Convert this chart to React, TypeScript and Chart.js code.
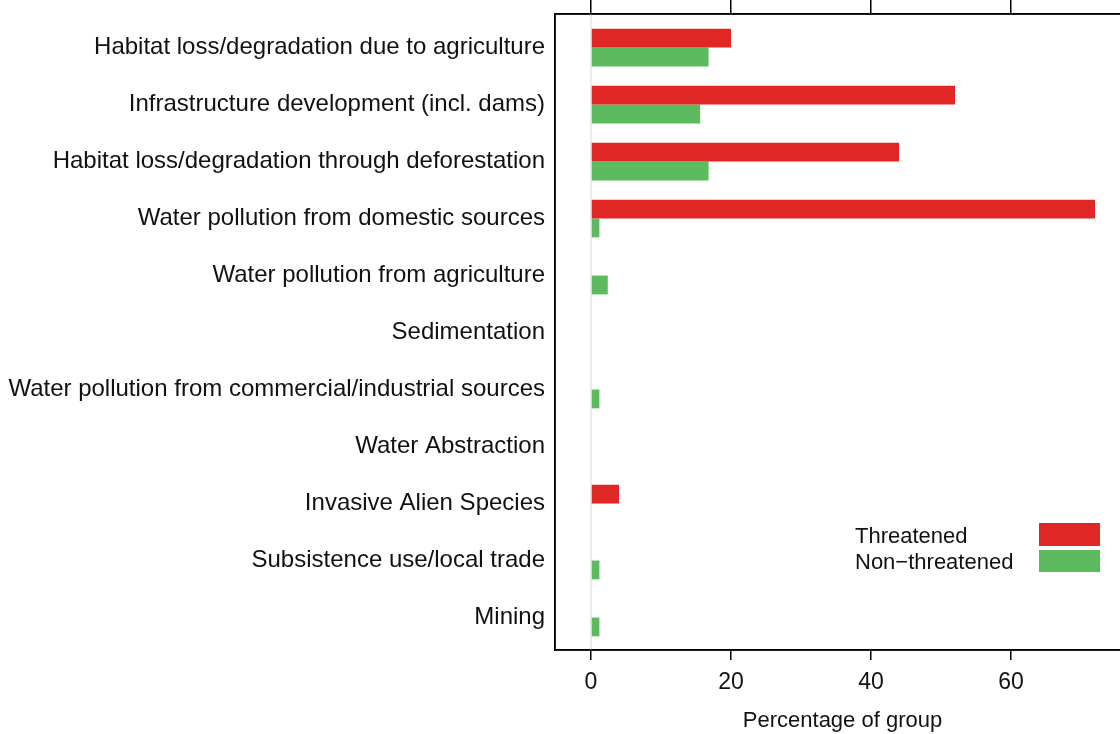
import React, { useEffect, useRef } from "react";
import { Chart, registerables } from "chart.js";

Chart.register(...registerables);

const categories = [
  "Habitat loss/degradation due to agriculture",
  "Infrastructure development (incl. dams)",
  "Habitat loss/degradation through deforestation",
  "Water pollution from domestic sources",
  "Water pollution from agriculture",
  "Sedimentation",
  "Water pollution from commercial/industrial sources",
  "Water Abstraction",
  "Invasive Alien Species",
  "Subsistence use/local trade",
  "Mining",
];
const threatened = [20, 52, 44, 72, 0, 0, 0, 0, 4, 0, 0];
const nonThreatened = [16.8, 15.6, 16.8, 1.2, 2.4, 0, 1.2, 0, 0, 1.2, 1.2];
const xTicks = [0, 20, 40, 60];
const seriesNames = ["Threatened", "Non\u2212threatened"];
const RED = "#DF2826";
const GREEN = "#5DBB5F";
const FONT = "'Liberation Sans', Arial, sans-serif";

export default function App() {
  const ref = useRef<HTMLCanvasElement>(null);
  useEffect(() => {
    document.body.style.margin = "0";
    const setTicks = (scale: any) => {
      scale.ticks = xTicks.map((v) => ({ value: v }));
    };
    const decor = {
      id: "decor",
      beforeDatasetsDraw(chart: any) {
        const { ctx, chartArea, scales } = chart;
        const x0 = scales.x.getPixelForValue(0);
        ctx.save();
        ctx.strokeStyle = "#d8d8d8";
        ctx.lineWidth = 1;
        ctx.beginPath();
        ctx.moveTo(x0, chartArea.top);
        ctx.lineTo(x0, chartArea.bottom);
        ctx.stroke();
        ctx.restore();
      },
      afterDraw(chart: any) {
        const { ctx, chartArea } = chart;
        ctx.save();
        ctx.strokeStyle = "#000";
        ctx.lineWidth = 1.5;
        ctx.strokeRect(chartArea.left, chartArea.top, chartArea.right - chartArea.left, chartArea.bottom - chartArea.top);
        const bx = chartArea.left + 484;
        const tx = chartArea.left + 300;
        ctx.fillStyle = RED;
        ctx.fillRect(bx, chartArea.top + 509, 61, 23);
        ctx.fillStyle = GREEN;
        ctx.fillRect(bx, chartArea.top + 536, 61, 22);
        ctx.fillStyle = "#111";
        ctx.font = `22px ${FONT}`;
        ctx.textAlign = "left";
        ctx.textBaseline = "middle";
        ctx.fillText(seriesNames[0], tx, chartArea.top + 523);
        ctx.fillText(seriesNames[1], tx, chartArea.top + 549);
        ctx.restore();
      },
    };
    const chart = new Chart(ref.current!, {
      type: "bar",
      data: {
        labels: categories,
        datasets: [
          { label: seriesNames[0], data: threatened, backgroundColor: RED, categoryPercentage: 0.66, barPercentage: 1 },
          { label: seriesNames[1], data: nonThreatened, backgroundColor: GREEN, categoryPercentage: 0.66, barPercentage: 1 },
        ],
      },
      options: {
        indexAxis: "y",
        animation: false,
        responsive: false,
        maintainAspectRatio: false,
        layout: { padding: 0 },
        plugins: { legend: { display: false }, tooltip: { enabled: false } },
        scales: {
          x: {
            type: "linear",
            position: "bottom",
            min: -5.14,
            max: 77,
            afterBuildTicks: setTicks,
            afterFit: (s: any) => { s.height = 84; },
            grid: { drawOnChartArea: false, drawTicks: true, tickLength: 10, color: "#000", lineWidth: 1.5 },
            border: { display: true, color: "#000", width: 1.5 },
            ticks: { color: "#111", font: { size: 23, family: FONT }, padding: 9 },
            title: { display: true, text: "Percentage of group", color: "#111", font: { size: 22, family: FONT }, padding: { top: 2, bottom: 0 } },
          },
          x2: {
            type: "linear",
            position: "top",
            min: -5.14,
            max: 77,
            afterBuildTicks: setTicks,
            afterFit: (s: any) => { s.height = 14; s.paddingLeft = 0; s.paddingRight = 0; },
            grid: { drawOnChartArea: false, drawTicks: true, tickLength: 14, color: "#000", lineWidth: 1.5 },
            border: { display: true, color: "#000", width: 1.5 },
            ticks: { display: false },
          },
          y: {
            type: "category",
            position: "left",
            afterFit: (s: any) => { s.width = 555; s.paddingTop = 0; s.paddingBottom = 0; },
            afterUpdate: (s: any) => {
              s._startValue = -0.5 - 0.09;
              s._valueRange = categories.length + 0.16;
            },
            grid: { display: false, drawTicks: false },
            border: { display: true, color: "#000", width: 1.5 },
            ticks: { color: "#111", font: { size: 24, family: FONT }, padding: 10, autoSkip: false },
          },
        },
      },
      plugins: [decor],
    });
    return () => chart.destroy();
  }, []);
  return (
    <div style={{ position: "fixed", left: 0, top: 0, width: 1120, height: 734, overflow: "hidden", background: "#fff" }}>
      <canvas ref={ref} width={1130} height={734} style={{ width: 1130, height: 734 }} />
    </div>
  );
}
